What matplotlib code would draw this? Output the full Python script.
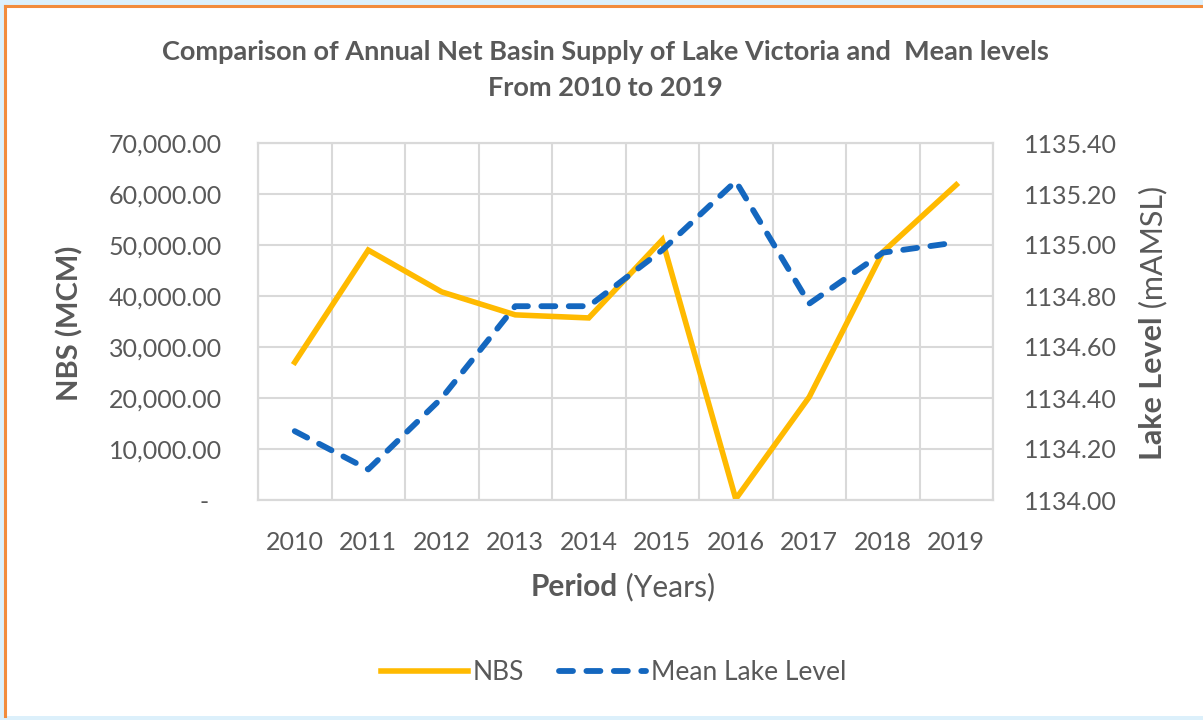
import matplotlib
matplotlib.use('Agg')
import matplotlib.pyplot as plt
from matplotlib.lines import Line2D
from matplotlib.patches import Rectangle
from matplotlib.ticker import FuncFormatter, MultipleLocator
import numpy as np

plt.rcParams['font.family'] = ['Lato', 'DejaVu Sans']

years = ['2010', '2011', '2012', '2013', '2014', '2015', '2016', '2017', '2018', '2019']
nbs = [27000, 49000, 40800, 36300, 35700, 51000, 200, 20200, 48600, 61800]
lake_level = [1134.27, 1134.12, 1134.40, 1134.76, 1134.76, 1134.98, 1135.25, 1134.77, 1134.97, 1135.01]

gold = '#FFBA00'
blue = '#1467BF'
grey_txt = '#595959'
grid_c = '#d9d9d9'

fig = plt.figure(figsize=(12.03, 7.2), dpi=100, facecolor='#dcf0fb')
# white card with orange edge on top and left
fig.patches.append(Rectangle((4.5 / 1203, 4 / 720), 1.0, 710 / 720, transform=fig.transFigure,
                             facecolor='white', edgecolor='none', zorder=-2))
fig.add_artist(Line2D([4.5 / 1203, 1.0], [714 / 720, 714 / 720], color='#f28c3c', lw=2.2))
fig.add_artist(Line2D([4.5 / 1203, 4.5 / 1203], [4 / 720, 714 / 720], color='#f28c3c', lw=2.2))

ax = fig.add_axes([258 / 1203, 220 / 720, 735 / 1203, 357 / 720])
ax2 = ax.twinx()

x = np.arange(len(years))
ax.plot(x, nbs, color=gold, lw=4.0, solid_joinstyle='miter', label='NBS', zorder=3)
ax2.plot(x, lake_level, color=blue, lw=4.2, dashes=(2.4, 2.3), dash_capstyle='round',
         label='Mean Lake Level', zorder=3)

ax.set_xlim(-0.5, 9.5)
ax.set_ylim(0, 70000)
ax2.set_ylim(1134.0, 1135.4)
ax.yaxis.set_major_locator(MultipleLocator(10000))
ax2.yaxis.set_major_locator(MultipleLocator(0.2))
ax.set_xticks(x)
ax.set_xticklabels(years)
ax.set_xticks(np.arange(-0.5, 10, 1), minor=True)

ax.yaxis.set_major_formatter(FuncFormatter(lambda v, p: '-  ' if v == 0 else f'{v:,.2f}'))
ax2.yaxis.set_major_formatter(FuncFormatter(lambda v, p: f'{v:.2f}'))

ax.grid(True, axis='y', which='major', color=grid_c, lw=1.5)
ax.grid(True, axis='x', which='minor', color=grid_c, lw=1.5)
ax.set_axisbelow(True)
for a in (ax, ax2):
    for s in a.spines.values():
        s.set_color(grid_c)
        s.set_linewidth(1.5)
    a.tick_params(which='both', length=0, labelsize=18, labelcolor=grey_txt)
ax.tick_params(axis='x', which='both', pad=22)
ax.tick_params(axis='y', pad=26)
ax2.tick_params(axis='y', pad=22)

fig.text(0.503, 1 - 52 / 720, 'Comparison of Annual Net Basin Supply of Lake Victoria and  Mean levels',
         ha='center', va='center', fontsize=19.5, fontweight='bold', color=grey_txt)
fig.text(0.503, 1 - 88 / 720, 'From 2010 to 2019', ha='center', va='center',
         fontsize=19.5, fontweight='bold', color=grey_txt)

fig.text(70 / 1203, 1 - 323 / 720, 'NBS (MCM)', rotation=90, ha='center', va='center',
         fontsize=21, fontweight='bold', color=grey_txt)

renderer = fig.canvas.get_renderer()

# x label: bold word followed by a regular one
t1 = fig.text(0, 1 - 587 / 720, 'Period', ha='left', va='center', fontsize=21.5,
              fontweight='bold', color=grey_txt)
t2 = fig.text(0, 1 - 587 / 720, ' (Years)', ha='left', va='center', fontsize=21.5, color=grey_txt)
w1 = t1.get_window_extent(renderer).width
w2 = t2.get_window_extent(renderer).width
x0 = 623 - (w1 + w2) / 2
t1.set_x(x0 / 1203)
t2.set_x((x0 + w1) / 1203)

# right label, rotated, bold then regular
r1 = fig.text(1153 / 1203, 0, 'Lake Level', rotation=90, ha='center', va='bottom',
              fontsize=22, fontweight='bold', color=grey_txt)
r2 = fig.text(1153 / 1203, 0, ' (mAMSL)', rotation=90, ha='center', va='bottom',
              fontsize=22, color=grey_txt)
h1 = r1.get_window_extent(renderer).height
h2 = r2.get_window_extent(renderer).height
y0 = (720 - 323) - (h1 + h2) / 2
r1.set_y(y0 / 720)
r2.set_y((y0 + h1) / 720)

handles = [ax.get_lines()[0], ax2.get_lines()[0]]
fig.legend(handles, ['NBS', 'Mean Lake Level'], loc='center', bbox_to_anchor=(0.51, 1 - 673 / 720),
           ncol=2, frameon=False, fontsize=19, handlelength=3.3, handletextpad=0.2,
           columnspacing=1.3, labelcolor=grey_txt)

fig.savefig('out.png', dpi=100, facecolor=fig.get_facecolor())
